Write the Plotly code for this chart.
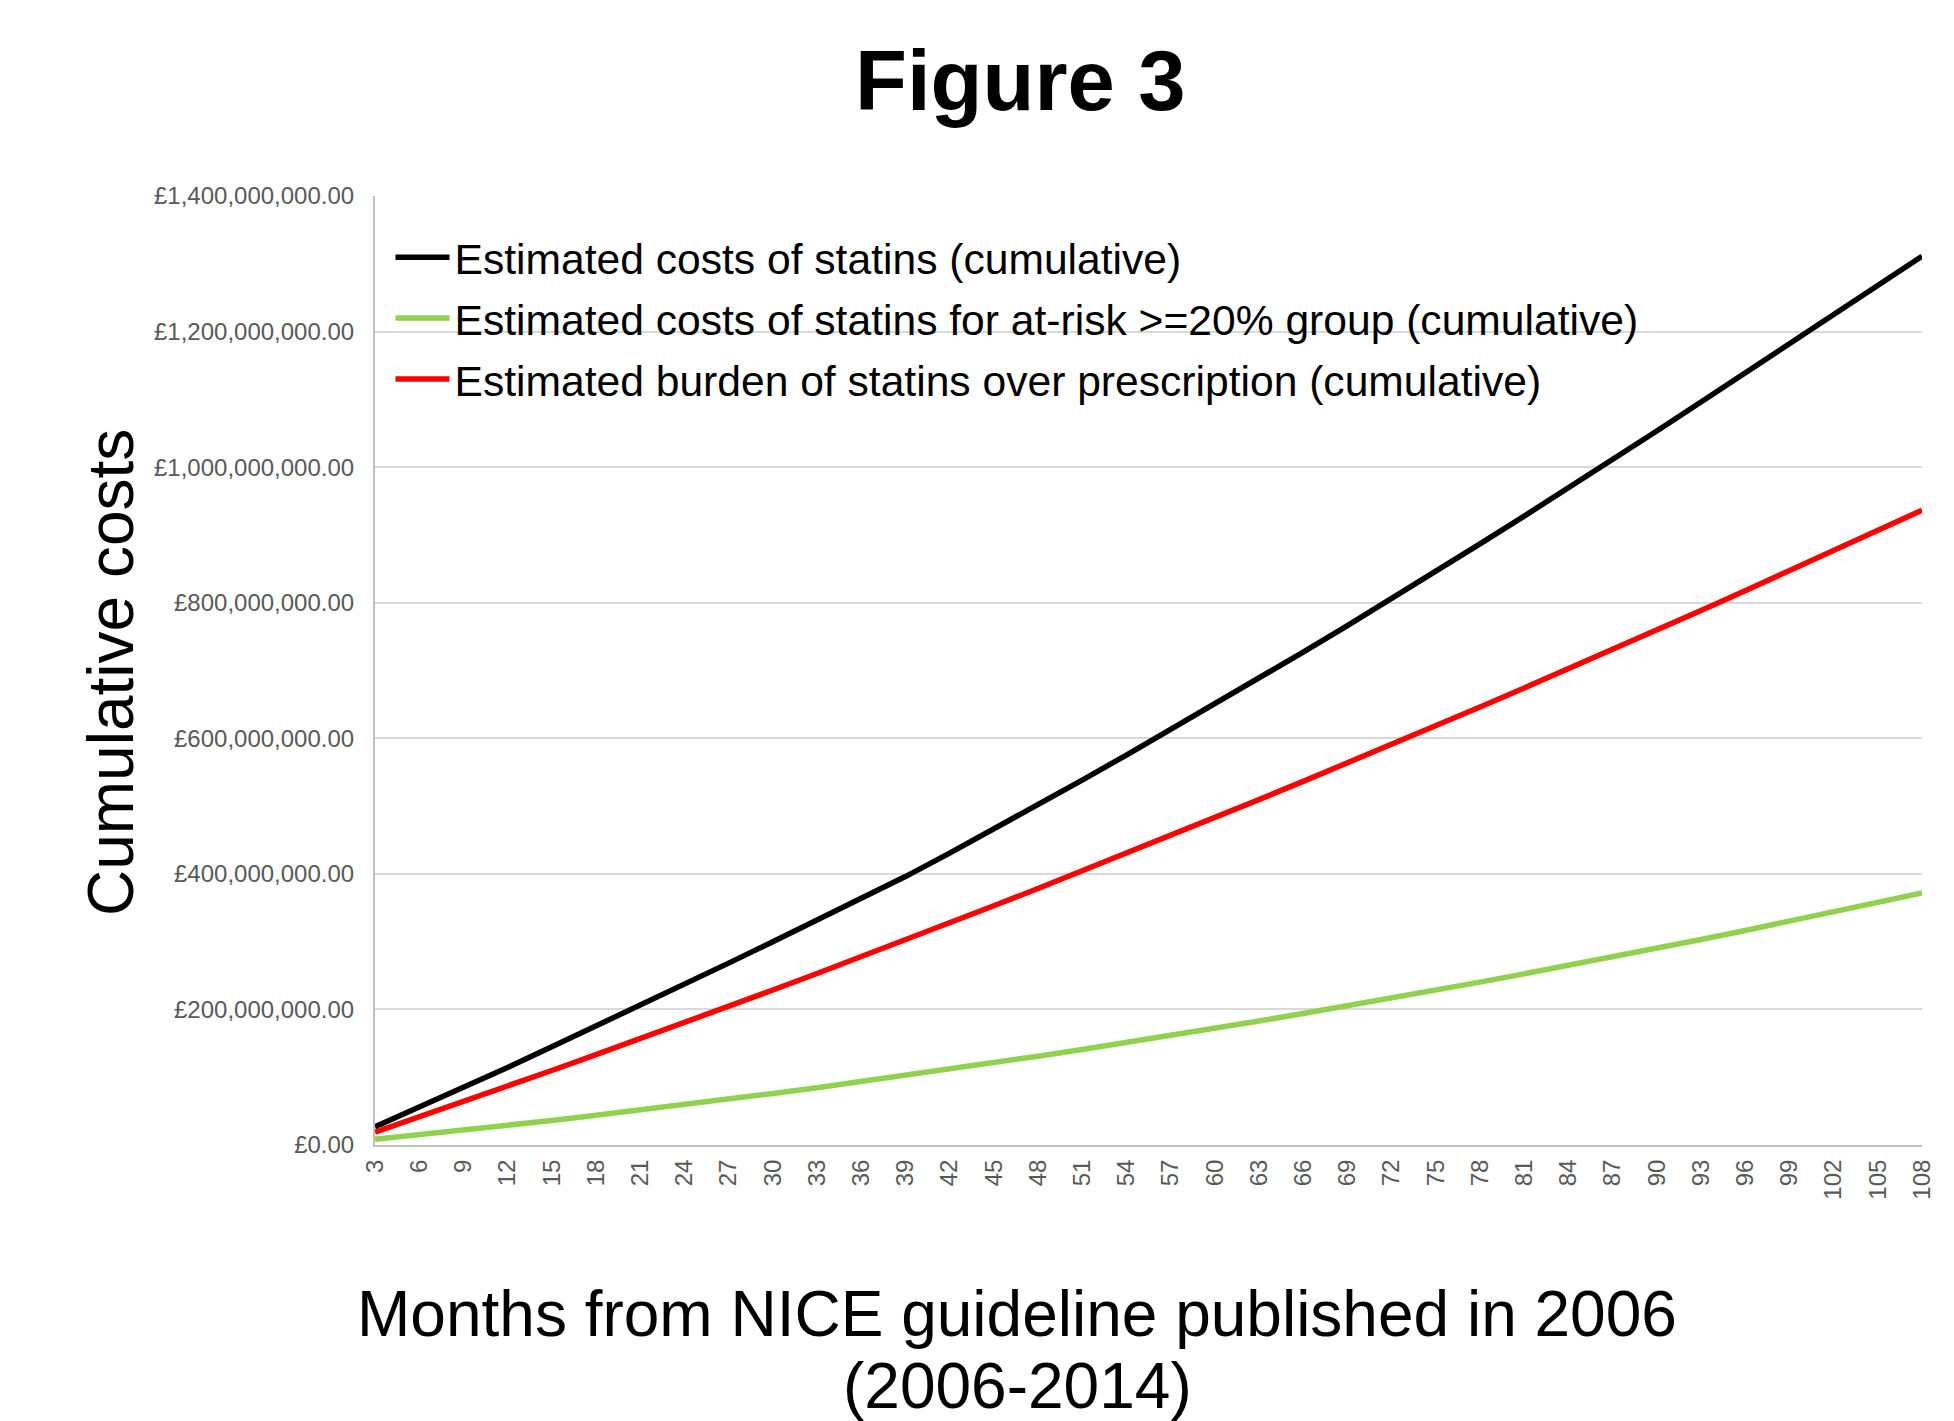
import plotly.graph_objects as go

months = list(range(3, 109, 3))

# Cumulative costs in £ millions
statins_total = [27, 55.5, 84.7, 114.5, 144.8, 175.3, 206, 237, 268.3, 299.9, 331.7, 363.7,
                 396, 430.5, 465.8, 501.8, 538.3, 575.3, 613, 650.4, 688.5, 727.1, 766.3, 806,
                 846.2, 886.8, 927.8, 969.2, 1011, 1053.3, 1096, 1139, 1182.3, 1225.6, 1269, 1311]
statins_at_risk = [8.4, 15.0, 21.9, 29.0, 36.2, 43.8, 51.5, 59.5, 67.6, 76.0, 84.6, 93.5,
                   102.5, 111.8, 121.3, 131.0, 141.0, 151.1, 161.5, 172.1, 182.9, 194.0, 205.2, 216.7,
                   228.4, 240.3, 252.5, 264.8, 277.4, 290.2, 303.2, 316.5, 329.9, 343.6, 357.5, 371.7]
over_prescription = [19, 41.4, 64.0, 86.8, 109.9, 133.2, 156.7, 180.4, 204.4, 228.6, 253.0, 277.6,
                     302.5, 327.6, 352.9, 378.4, 404.2, 430.2, 456.4, 482.9, 509.5, 536.4, 563.5, 590.9,
                     618.4, 646.2, 674.2, 702.4, 730.9, 759.6, 788.5, 817.7, 847.0, 876.6, 906.4, 936.5]

series_names = [
    "Estimated costs of statins (cumulative)",
    "Estimated costs of statins for at-risk >=20% group (cumulative)",
    "Estimated burden of statins over prescription (cumulative)",
]
series_colors = ["#000000", "#92D050", "#FF0000"]
series_values = [statins_total, statins_at_risk, over_prescription]

FONT = "Arial, Liberation Sans, sans-serif"

fig = go.Figure()
for i, (name, color, vals) in enumerate(zip(series_names, series_colors, series_values)):
    fig.add_trace(go.Scatter(
        x=months, y=[v * 1e6 for v in vals], name=name, mode="lines",
        line=dict(color=color, width=5.5), legendgroup=f"g{i}",
    ))

W, H = 1954, 1421
L, R, T, B = 375, 32, 196, 276
pw, ph = W - L - R, H - T - B

def px(X):
    return (X - L) / pw

def py(Y):
    return (H - B - Y) / ph

fig.update_layout(
    width=W, height=H,
    margin=dict(l=L, r=R, t=T, b=B),
    paper_bgcolor="white", plot_bgcolor="white",
    font=dict(family=FONT, color="#000000"),
    showlegend=True,
    legend=dict(
        x=px(390.5), y=py(223), xanchor="left", yanchor="top",
        bgcolor="rgba(0,0,0,0)", font=dict(size=42.6, family=FONT, color="#000000"),
        itemwidth=54, tracegroupgap=2.5,
    ),
    xaxis=dict(
        range=[3, 108], tickmode="array", tickvals=months,
        ticktext=[str(m) for m in months], tickangle=-90,
        tickfont=dict(size=24, color="#595959", family=FONT),
        showgrid=False, showline=True, linecolor="#bfbfbf", linewidth=2,
        ticks="", ticklabelstandoff=3, zeroline=False,
    ),
    yaxis=dict(
        range=[0, 1.4e9], dtick=2e8, tick0=0,
        tickprefix="£", tickformat=",.2f",
        tickfont=dict(size=24, color="#595959", family=FONT),
        showgrid=True, gridcolor="#d9d9d9", gridwidth=1.5,
        showline=True, linecolor="#bfbfbf", linewidth=2,
        ticks="", ticklabelstandoff=14, zeroline=False,
    ),
    annotations=[
        dict(text="<b>Figure 3</b>", x=px(1020), y=py(81), xref="paper", yref="paper",
             showarrow=False, xanchor="center", yanchor="middle",
             font=dict(size=85, family=FONT, color="#000000")),
        dict(text="Cumulative costs", x=px(111), y=py(673), xref="paper", yref="paper",
             showarrow=False, xanchor="center", yanchor="middle", textangle=-90,
             font=dict(size=64, family=FONT, color="#000000")),
        dict(text="Months from NICE guideline published in 2006", x=px(1017), y=py(1314),
             xref="paper", yref="paper", showarrow=False, xanchor="center", yanchor="middle",
             font=dict(size=64, family=FONT, color="#000000")),
        dict(text="(2006-2014)", x=px(1017), y=py(1386),
             xref="paper", yref="paper", showarrow=False, xanchor="center", yanchor="middle",
             font=dict(size=64, family=FONT, color="#000000")),
    ],
)

fig.write_html("out.html")
